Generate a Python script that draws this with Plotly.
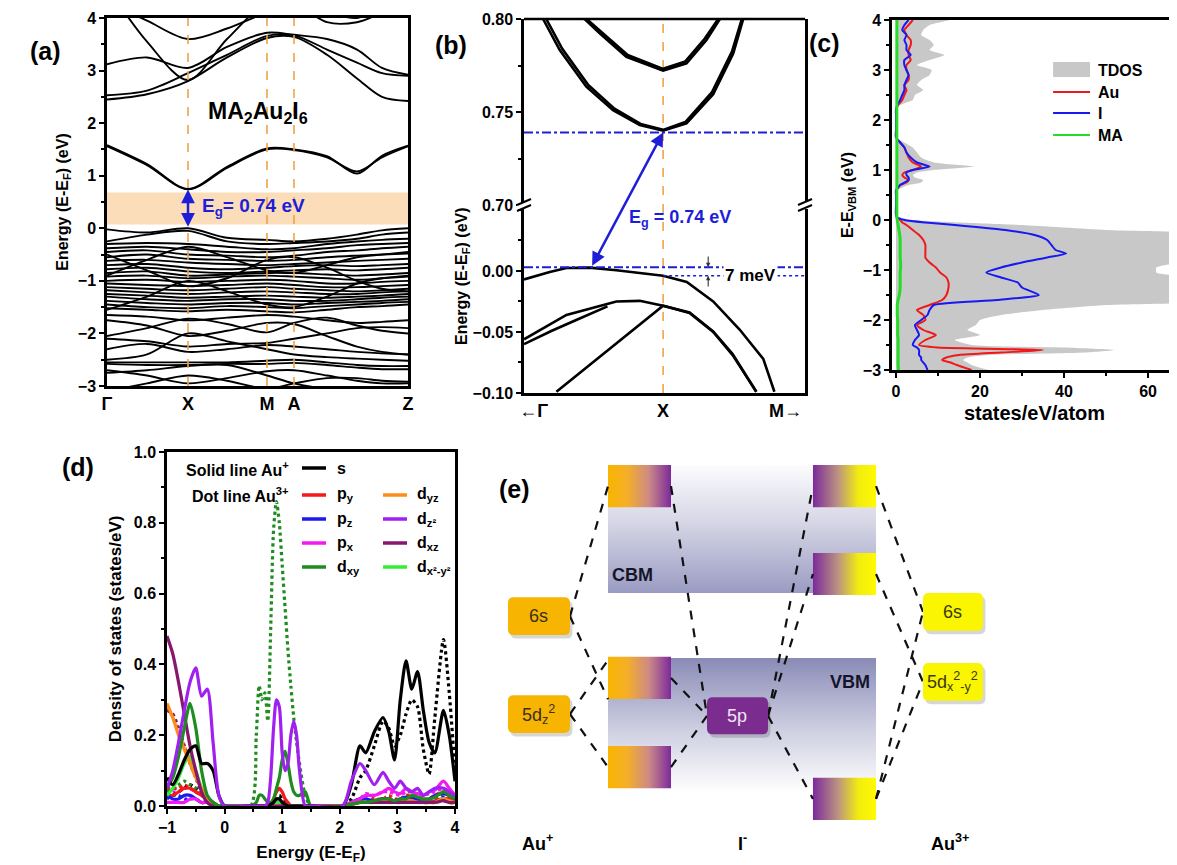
import plotly.graph_objects as go

# page is 1177x865; the browser adds an 8px body margin, so the figure itself is 8px smaller
PAGE_OFF = 8
W, H = 1177 - PAGE_OFF, 865 - PAGE_OFF
def px(x): return (x - PAGE_OFF) / W
def py(y): return 1 - (y - PAGE_OFF) / H

# ====================== DATA ======================
# (a) band structure of MA2Au2I6 along Γ-X-M-A-Z
A_K = [0.0, 0.40, 0.81, 1.20, 1.60, 1.87, 2.20, 2.50, 2.75, 3.01]
A_KTICK_POS = [0.0, 0.81, 1.60, 1.87, 3.01]
A_KTICK_TEXT = ["Γ", "X", "M", "A", "Z"]
A_CB = [
    [1.56, 1.20, 0.74, 1.15, 1.50, 1.49, 1.35, 1.08, 1.35, 1.56],
    [1.58, 1.22, 0.75, 1.17, 1.52, 1.50, 1.37, 1.04, 1.38, 1.57],
    [2.45, 2.55, 2.80, 3.25, 3.62, 3.64, 3.30, 2.85, 2.50, 2.42],
    [2.53, 2.62, 2.95, 3.30, 3.66, 3.67, 3.40, 3.15, 2.95, 2.90],
    [3.12, 3.25, 3.05, 3.45, 3.72, 3.68, 3.60, 3.40, 3.05, 2.92],
    [4.30, 3.95, 3.60, 3.80, 4.10, 4.20, 4.10, 4.00, 4.20, 4.40],
    [4.60, 3.55, 2.82, 3.60, 4.30, 4.40, 4.30, 4.30, 4.40, 4.50],
    [4.50, 4.30, 4.20, 4.40, 4.50, 4.30, 3.92, 3.92, 4.10, 4.30],
]
A_VB = [
    [-0.02, -0.08, 0.00, -0.18, -0.22, -0.25, -0.20, -0.12, -0.04, 0.00],
    [-0.25, -0.12, -0.05, -0.25, -0.30, -0.28, -0.25, -0.20, -0.12, -0.08],
    [-0.30, -0.28, -0.30, -0.35, -0.40, -0.38, -0.30, -0.25, -0.22, -0.20],
    [-0.38, -0.35, -0.40, -0.45, -0.45, -0.42, -0.38, -0.32, -0.30, -0.28],
    [-0.45, -0.42, -0.50, -0.52, -0.55, -0.52, -0.45, -0.42, -0.38, -0.35],
    [-0.55, -0.50, -0.58, -0.60, -0.62, -0.60, -0.55, -0.52, -0.50, -0.48],
    [-0.62, -0.60, -0.65, -0.68, -0.70, -0.68, -0.65, -0.62, -0.60, -0.58],
    [-0.70, -0.68, -0.75, -0.78, -0.75, -0.72, -0.70, -0.72, -0.70, -0.68],
    [-0.78, -0.75, -0.82, -0.85, -0.82, -0.80, -0.78, -0.80, -0.78, -0.75],
    [-0.85, -0.82, -0.90, -0.88, -0.85, -0.85, -0.88, -0.90, -0.88, -0.85],
    [-0.92, -0.90, -0.95, -0.92, -0.90, -0.92, -0.95, -0.98, -0.95, -0.92],
    [-1.00, -0.98, -1.02, -1.00, -0.98, -1.00, -1.05, -1.05, -1.02, -1.00],
    [-1.05, -1.08, -1.10, -1.08, -1.05, -1.08, -1.12, -1.12, -1.10, -1.08],
    [-1.12, -1.15, -1.18, -1.15, -1.12, -1.15, -1.18, -1.20, -1.18, -1.15],
    [-1.18, -1.22, -1.25, -1.22, -1.20, -1.22, -1.25, -1.25, -1.22, -1.20],
    [-1.25, -1.28, -1.32, -1.30, -1.28, -1.30, -1.32, -1.30, -1.28, -1.25],
    [-1.30, -1.35, -1.38, -1.35, -1.35, -1.38, -1.38, -1.35, -1.32, -1.30],
    [-1.38, -1.42, -1.45, -1.42, -1.42, -1.45, -1.42, -1.40, -1.38, -1.35],
    [-1.45, -1.50, -1.52, -1.48, -1.50, -1.52, -1.48, -1.45, -1.42, -1.40],
    [-1.52, -1.55, -1.58, -1.55, -1.58, -1.60, -1.55, -1.50, -1.48, -1.45],
    [-0.90, -0.60, -0.35, -0.55, -0.80, -0.85, -0.70, -0.55, -0.50, -0.45],
    [-1.55, -1.30, -1.00, -1.20, -1.45, -1.50, -1.30, -1.05, -0.95, -0.90],
    [-0.50, -0.80, -1.10, -0.95, -0.60, -0.55, -0.75, -1.00, -1.15, -1.20],
    [-1.65, -1.68, -1.75, -1.70, -1.65, -1.68, -1.75, -1.80, -1.78, -1.75],
    [-1.75, -1.85, -2.05, -1.95, -1.80, -1.82, -2.05, -2.25, -2.35, -2.40],
    [-2.05, -1.90, -1.72, -1.82, -1.98, -1.80, -1.70, -1.85, -1.95, -2.00],
    [-2.10, -2.15, -2.25, -2.20, -2.18, -2.10, -2.00, -1.90, -1.88, -1.90],
    [-2.30, -2.20, -2.35, -2.30, -2.22, -2.25, -2.30, -2.35, -2.38, -2.40],
    [-2.50, -2.40, -2.00, -2.15, -2.30, -2.40, -2.45, -2.48, -2.50, -2.52],
    [-2.55, -2.55, -2.55, -2.55, -2.52, -2.50, -2.55, -2.60, -2.62, -2.62],
    [-2.58, -2.60, -2.60, -2.58, -2.58, -2.56, -2.60, -2.65, -2.68, -2.68],
    [-2.70, -2.80, -2.95, -2.85, -2.72, -2.70, -2.80, -2.90, -2.95, -2.95],
    [-2.75, -2.70, -2.62, -2.60, -2.80, -2.95, -3.05, -3.05, -3.05, -3.05],
    [-3.10, -2.95, -2.80, -2.90, -3.05, -2.95, -2.85, -2.85, -2.90, -2.92],
]
A_GAP = [0.0, 0.74]
A_SHADE = [0.07, 0.68]

# (b) zoom near X
B_KTICK_TEXT = ["←Γ", "X", "M→"]
B_CB = [
    ([0.137, 0.257, 0.448, 0.640, 0.832, 1.0, 1.168, 1.36, 1.504, 1.576],
     [0.800, 0.7833, 0.7636, 0.751, 0.743, 0.740, 0.7439, 0.7595, 0.7815, 0.800]),
    ([0.160, 0.275, 0.462, 0.650, 0.838, 1.0, 1.160, 1.35, 1.495, 1.566],
     [0.800, 0.7840, 0.7645, 0.7518, 0.7436, 0.7404, 0.7446, 0.7605, 0.7825, 0.800]),
    ([0.436, 0.544, 0.736, 1.0, 1.168, 1.312, 1.408],
     [0.800, 0.7923, 0.7797, 0.7722, 0.7762, 0.7887, 0.800]),
    ([0.450, 0.556, 0.745, 1.0, 1.160, 1.300, 1.396],
     [0.800, 0.7930, 0.7806, 0.7732, 0.7772, 0.7895, 0.800]),
]
B_VB = [
    ([0.0, 0.185, 0.305, 0.47, 0.664, 1.0, 1.17, 1.36, 1.55, 1.72, 1.80],
     [-0.007, -0.0008, 0.0024, 0.0027, 0.0005, -0.004, -0.009, -0.025, -0.048, -0.072, -0.099]),
    ([0.0, 0.305, 0.664, 0.832, 1.0, 1.19, 1.36, 1.50, 1.67],
     [-0.056, -0.036, -0.025, -0.0245, -0.0285, -0.034, -0.0495, -0.068, -0.099]),
    ([0.0, 0.20, 0.40, 0.60],
     [-0.060, -0.049, -0.039, -0.029]),
    ([0.233, 1.0, 1.19, 1.36, 1.50, 1.67],
     [-0.099, -0.0285, -0.0345, -0.050, -0.069, -0.099]),
]
B_CBM = 0.739
B_VBM = 0.003
B_VBX = -0.004
B_VBM_K = 0.484

# (c) total and partial DOS
C_E = [4.0, 3.9, 3.8, 3.7, 3.6, 3.5, 3.4, 3.3, 3.2, 3.1,
       3.0, 2.9, 2.8, 2.7, 2.6, 2.5, 2.4, 2.3, 2.2, 2.1,
       2.0, 1.8, 1.65, 1.55, 1.45, 1.35, 1.25, 1.15, 1.07, 1.0,
       0.95, 0.9, 0.85, 0.8, 0.75, 0.7, 0.65, 0.6, 0.5, 0.3,
       0.1, 0.05, 0.0, -0.05, -0.1, -0.2, -0.3, -0.4, -0.5, -0.6,
       -0.67, -0.75, -0.85, -0.95, -1.05, -1.15, -1.25, -1.35, -1.5, -1.6,
       -1.7, -1.8, -1.9, -2.0, -2.1, -2.2, -2.3, -2.4, -2.5, -2.55,
       -2.6, -2.65, -2.7, -2.75, -2.8, -2.85, -2.9, -3.0]
C_TDOS = [13, 8, 6.5, 6, 8, 9, 8, 11.5, 8, 5,
          8.5, 8, 6, 5, 6.5, 4.5, 4, 1, 0, 0,
          0, 0, 0, 2, 4, 5, 6, 9, 18.5, 9,
          5, 4, 4.5, 6.5, 6, 3, 1.5, 0.5, 0, 0,
          0, 1, 4, 15, 30, 50, 75, 75, 75, 75,
          75, 75, 68, 62, 62, 72, 75, 75, 75, 75,
          50, 35, 25, 20, 19, 17, 20, 14, 18, 40,
          52, 45, 22, 17, 16, 17, 18, 22]
C_AU = [4, 3, 2, 2.5, 3.5, 3.5, 3, 3, 3.5, 2.5,
        2.5, 3, 3, 2, 2.5, 2, 1.5, 0.5, 0, 0,
        0, 0, 0, 1, 2, 2.5, 3, 4, 6, 4,
        2, 1.5, 2, 3, 2.5, 1, 0.5, 0, 0, 0,
        0, 0.2, 1, 1.5, 2.5, 4, 5.5, 6.5, 7, 7,
        7, 7, 8, 9.5, 10.5, 12, 12.5, 12.5, 12, 11,
        8, 5, 6.5, 7, 5, 6.5, 9.5, 7, 5.5, 10,
        35, 25, 15, 12, 11, 13, 14.5, 18]
C_I = [3, 2, 1.5, 2.5, 2, 2.5, 2.5, 3.5, 2, 2,
       2.5, 3, 2.5, 2, 2, 1.5, 1, 0.3, 0, 0,
       0, 0, 0, 1, 2, 2.5, 3.5, 5, 8, 4,
       2.5, 2.5, 3, 3, 2, 1, 0.5, 0, 0, 0,
       0, 0.3, 2, 7, 14, 26, 33, 36, 37, 38,
       40.5, 36, 30, 25, 21.5, 25, 29, 30, 34, 24,
       9, 8, 7.5, 6, 4.5, 5, 5.5, 4.5, 4, 5,
       5.5, 5.5, 5.5, 6, 6, 6.5, 7, 7.5]
C_MA = [0.2, 0.2, 0.2, 0.2, 0.2, 0.2, 0.2, 0.2, 0.2, 0.2,
        0.2, 0.2, 0.2, 0.2, 0.2, 0.2, 0.2, 0.2, 0.2, 0.2,
        0.2, 0.2, 0.2, 0.2, 0.2, 0.2, 0.2, 0.2, 0.2, 0.2,
        0.2, 0.2, 0.2, 0.2, 0.2, 0.2, 0.2, 0.2, 0.2, 0.2,
        0.2, 0.2, 0.3, 0.4, 0.5, 0.7, 0.9, 1.0, 1.0, 1.0,
        1.0, 1.0, 1.1, 1.1, 1.0, 1.0, 1.0, 1.0, 0.8, 0.5,
        0.3, 0.3, 0.3, 0.4, 0.4, 0.4, 0.4, 0.5, 0.5, 0.5,
        0.5, 0.5, 0.5, 0.5, 0.5, 0.5, 0.5, 0.6]
C_NAMES = ["TDOS", "Au", "I", "MA"]

# (d) orbital-projected DOS of Au+ (solid) and Au3+ (dotted)
D_E = [-1.0, -0.9, -0.8, -0.7, -0.6, -0.5, -0.4, -0.3, -0.2, -0.1, 0.0,
       0.45, 0.55, 0.6, 0.65, 0.7, 0.75, 0.8, 0.85, 0.9, 0.95, 1.0, 1.05, 1.1, 1.15, 1.2, 1.25, 1.3, 1.4, 1.5,
       2.05, 2.2, 2.35, 2.45, 2.6, 2.75, 2.85, 2.95, 3.05, 3.15, 3.25, 3.35, 3.45, 3.55, 3.65, 3.8, 3.9, 4.0]
D_S_AU1 = [0.08, 0.06, 0.09, 0.13, 0.16, 0.17, 0.12, 0.12, 0.10, 0.03, 0.0,
           0.0, 0.0, 0.0, 0.0, 0.0, 0.0, 0.005, 0.01, 0.02, 0.02, 0.01, 0.005, 0.0, 0.0, 0.0, 0.0, 0.0, 0.0, 0.0,
           0.0, 0.06, 0.17, 0.15, 0.21, 0.25, 0.21, 0.13, 0.30, 0.41, 0.33, 0.38, 0.27, 0.18, 0.15, 0.27, 0.20, 0.07]
D_S_AU3 = [0.03, 0.03, 0.04, 0.05, 0.06, 0.05, 0.04, 0.02, 0.01, 0.0, 0.0,
           0.0, 0.0, 0.0, 0.0, 0.0, 0.0, 0.0, 0.01, 0.02, 0.03, 0.02, 0.01, 0.0, 0.0, 0.0, 0.0, 0.0, 0.0, 0.0,
           0.0, 0.02, 0.08, 0.10, 0.17, 0.24, 0.22, 0.17, 0.20, 0.26, 0.30, 0.28, 0.16, 0.09, 0.25, 0.47, 0.32, 0.10]
D_PY_AU1 = [0.03, 0.03, 0.04, 0.05, 0.05, 0.04, 0.03, 0.02, 0.01, 0.0, 0.0,
            0.0, 0.0, 0.0, 0.0, 0.0, 0.0, 0.005, 0.02, 0.04, 0.05, 0.04, 0.02, 0.01, 0.0, 0.0, 0.0, 0.0, 0.0, 0.0,
            0.0, 0.005, 0.01, 0.01, 0.015, 0.02, 0.015, 0.01, 0.015, 0.02, 0.02, 0.015, 0.01, 0.01, 0.015, 0.02, 0.02, 0.01]
D_PY_AU3 = [0.05, 0.05, 0.05, 0.06, 0.05, 0.04, 0.03, 0.02, 0.01, 0.0, 0.0,
            0.0, 0.0, 0.0, 0.0, 0.0, 0.0, 0.0, 0.0, 0.01, 0.01, 0.0, 0.0, 0.0, 0.0, 0.0, 0.0, 0.0, 0.0, 0.0,
            0.0, 0.01, 0.02, 0.03, 0.02, 0.02, 0.03, 0.02, 0.02, 0.03, 0.03, 0.02, 0.02, 0.02, 0.03, 0.04, 0.03, 0.02]
D_PZ_AU1 = [0.03, 0.02, 0.02, 0.03, 0.03, 0.02, 0.01, 0.01, 0.0, 0.0, 0.0,
            0.0, 0.0, 0.0, 0.0, 0.0, 0.0, 0.0, 0.005, 0.01, 0.01, 0.01, 0.005, 0.0, 0.0, 0.0, 0.0, 0.0, 0.0, 0.0,
            0.0, 0.01, 0.02, 0.02, 0.015, 0.02, 0.02, 0.015, 0.02, 0.025, 0.02, 0.02, 0.015, 0.02, 0.03, 0.035, 0.03, 0.02]
D_PZ_AU3 = [0.02, 0.03, 0.03, 0.02, 0.02, 0.02, 0.01, 0.01, 0.0, 0.0, 0.0,
            0.0, 0.0, 0.0, 0.0, 0.0, 0.0, 0.0, 0.0, 0.0, 0.0, 0.0, 0.0, 0.0, 0.0, 0.0, 0.0, 0.0, 0.0, 0.0,
            0.0, 0.005, 0.01, 0.015, 0.01, 0.015, 0.015, 0.01, 0.015, 0.02, 0.015, 0.015, 0.01, 0.015, 0.02, 0.025, 0.02, 0.015]
D_PX_AU1 = [0.01, 0.01, 0.01, 0.01, 0.02, 0.02, 0.01, 0.01, 0.0, 0.0, 0.0,
            0.0, 0.0, 0.0, 0.0, 0.0, 0.0, 0.0, 0.005, 0.01, 0.015, 0.01, 0.005, 0.0, 0.0, 0.0, 0.0, 0.0, 0.0, 0.0,
            0.0, 0.01, 0.02, 0.03, 0.03, 0.04, 0.05, 0.04, 0.035, 0.05, 0.04, 0.035, 0.03, 0.04, 0.045, 0.07, 0.05, 0.03]
D_PX_AU3 = [0.03, 0.04, 0.04, 0.05, 0.05, 0.04, 0.03, 0.02, 0.01, 0.0, 0.0,
            0.0, 0.0, 0.0, 0.0, 0.0, 0.0, 0.0, 0.0, 0.005, 0.01, 0.005, 0.0, 0.0, 0.0, 0.0, 0.0, 0.0, 0.0, 0.0,
            0.0, 0.01, 0.02, 0.035, 0.03, 0.04, 0.04, 0.035, 0.03, 0.04, 0.04, 0.03, 0.03, 0.035, 0.04, 0.05, 0.04, 0.03]
D_DXY_AU1 = [0.05, 0.08, 0.14, 0.22, 0.29, 0.22, 0.10, 0.03, 0.01, 0.0, 0.0,
             0.0, 0.01, 0.03, 0.03, 0.02, 0.01, 0.01, 0.02, 0.05, 0.08, 0.13, 0.155, 0.12, 0.07, 0.04, 0.03, 0.03, 0.04, 0.0,
             0.0, 0.005, 0.01, 0.01, 0.015, 0.02, 0.02, 0.015, 0.02, 0.02, 0.03, 0.025, 0.02, 0.02, 0.025, 0.04, 0.03, 0.02]
D_DXY_AU3 = [0.04, 0.05, 0.06, 0.07, 0.06, 0.05, 0.03, 0.02, 0.01, 0.0, 0.0,
             0.0, 0.20, 0.34, 0.30, 0.32, 0.24, 0.50, 0.78, 0.86, 0.80, 0.68, 0.56, 0.44, 0.34, 0.25, 0.18, 0.12, 0.03, 0.0,
             0.0, 0.005, 0.01, 0.015, 0.015, 0.02, 0.015, 0.01, 0.015, 0.02, 0.02, 0.02, 0.015, 0.015, 0.02, 0.035, 0.03, 0.02]
D_DYZ_AU1 = [0.29, 0.25, 0.20, 0.16, 0.12, 0.08, 0.05, 0.02, 0.0, 0.0, 0.0,
             0.0, 0.0, 0.0, 0.0, 0.0, 0.0, 0.0, 0.0, 0.0, 0.0, 0.0, 0.0, 0.0, 0.0, 0.0, 0.0, 0.0, 0.0, 0.0,
             0.0, 0.005, 0.01, 0.01, 0.01, 0.015, 0.01, 0.01, 0.01, 0.015, 0.015, 0.01, 0.01, 0.01, 0.01, 0.02, 0.015, 0.01]
D_DYZ_AU3 = [0.28, 0.25, 0.21, 0.17, 0.13, 0.09, 0.05, 0.02, 0.01, 0.0, 0.0,
             0.0, 0.0, 0.0, 0.0, 0.0, 0.0, 0.0, 0.0, 0.0, 0.0, 0.0, 0.0, 0.0, 0.0, 0.0, 0.0, 0.0, 0.0, 0.0,
             0.0, 0.005, 0.01, 0.01, 0.01, 0.01, 0.01, 0.01, 0.01, 0.01, 0.01, 0.01, 0.01, 0.01, 0.01, 0.015, 0.01, 0.01]
D_DZ2_AU1 = [0.05, 0.10, 0.18, 0.27, 0.35, 0.39, 0.31, 0.33, 0.18, 0.03, 0.0,
             0.0, 0.0, 0.0, 0.0, 0.0, 0.01, 0.08, 0.22, 0.30, 0.28, 0.15, 0.10, 0.12, 0.20, 0.24, 0.20, 0.10, 0.0, 0.0,
             0.0, 0.07, 0.12, 0.10, 0.06, 0.095, 0.07, 0.05, 0.07, 0.05, 0.04, 0.05, 0.03, 0.04, 0.05, 0.05, 0.04, 0.03]
D_DXZ_AU1 = [0.48, 0.43, 0.35, 0.26, 0.17, 0.10, 0.04, 0.01, 0.0, 0.0, 0.0,
             0.0, 0.0, 0.0, 0.0, 0.0, 0.0, 0.0, 0.0, 0.0, 0.0, 0.0, 0.0, 0.0, 0.0, 0.0, 0.0, 0.0, 0.0, 0.0,
             0.0, 0.005, 0.01, 0.01, 0.01, 0.01, 0.01, 0.01, 0.01, 0.01, 0.01, 0.01, 0.01, 0.01, 0.01, 0.015, 0.01, 0.01]
D_DXZ_AU3 = [0.27, 0.26, 0.22, 0.17, 0.12, 0.08, 0.04, 0.02, 0.0, 0.0, 0.0,
             0.0, 0.0, 0.0, 0.0, 0.0, 0.0, 0.0, 0.0, 0.0, 0.0, 0.0, 0.0, 0.0, 0.0, 0.0, 0.0, 0.0, 0.0, 0.0,
             0.0, 0.005, 0.01, 0.01, 0.01, 0.01, 0.01, 0.01, 0.01, 0.01, 0.01, 0.01, 0.01, 0.01, 0.01, 0.015, 0.01, 0.01]
D_DX2_AU1 = [0.03, 0.05, 0.08, 0.12, 0.14, 0.10, 0.05, 0.02, 0.0, 0.0, 0.0,
             0.0, 0.0, 0.0, 0.0, 0.0, 0.0, 0.0, 0.0, 0.01, 0.01, 0.01, 0.0, 0.0, 0.0, 0.0, 0.0, 0.0, 0.0, 0.0,
             0.0, 0.005, 0.01, 0.01, 0.01, 0.01, 0.01, 0.01, 0.01, 0.01, 0.01, 0.01, 0.01, 0.01, 0.01, 0.02, 0.01, 0.01]
D_ORB_LABELS = ["s", "p<sub>y</sub>", "p<sub>z</sub>", "p<sub>x</sub>", "d<sub>xy</sub>",
                "d<sub>yz</sub>", "d<sub>z²</sub>", "d<sub>xz</sub>", "d<sub>x²-y²</sub>"]

# (e) schematic energy-level diagram (arbitrary energy units 0-100)
E_AU1_LABELS = ["6s", "5d<sub>z</sub><sup>2</sup>"]
E_AU1_LEVELS = [57.2, 34.7]
E_MOL_LEVELS = [87.1, 43.0, 22.5]
E_I_LABELS = ["5p"]
E_I_LEVELS = [34.3]
E_MOR_LEVELS = [87.1, 66.9, 15.2]
E_AU3_LABELS = ["6s", "5d<sub>x</sub><sup>2</sup><sub>-y</sub><sup>2</sup>"]
E_AU3_LEVELS = [58.2, 42.1]
E_CBM = [62.5, 92.0]
E_VBM = [16.6, 47.6]
E_ION_LABELS = ["Au<sup>+</sup>", "I<sup>-</sup>", "Au<sup>3+</sup>"]
E_LINKS = [("au1", 0, "mol", 0), ("au1", 0, "mol", 1), ("au1", 1, "mol", 1), ("au1", 1, "mol", 2),
           ("mol", 0, "i", 0), ("mol", 1, "i", 0), ("mol", 2, "i", 0),
           ("i", 0, "mor", 0), ("i", 0, "mor", 1), ("i", 0, "mor", 2),
           ("mor", 0, "au3", 0), ("mor", 2, "au3", 0), ("mor", 1, "au3", 1), ("mor", 2, "au3", 1)]

for arr in (C_TDOS, C_AU, C_I, C_MA):
    assert len(arr) == len(C_E)
for arr in (D_S_AU1, D_S_AU3, D_PY_AU1, D_PY_AU3, D_PZ_AU1, D_PZ_AU3, D_PX_AU1, D_PX_AU3,
            D_DXY_AU1, D_DXY_AU3, D_DYZ_AU1, D_DYZ_AU3, D_DZ2_AU1, D_DXZ_AU1, D_DXZ_AU3, D_DX2_AU1):
    assert len(arr) == len(D_E), len(arr)

# ====================== STYLE ======================
FONT = "Liberation Sans, Arial, sans-serif"
BLUE = "#1E1ED8"
ODASH = "#F2A24A"
TICKFONT = dict(family=FONT, size=16, color="black", weight="bold")
def title_font(size):
    return dict(family=FONT, size=size, color="black", weight="bold")

fig = go.Figure()
shapes = []
ann = []

# ---------------- (a) ----------------
for band in A_CB + A_VB:
    fig.add_trace(go.Scatter(x=A_K, y=band, mode="lines", xaxis="x", yaxis="y",
                             line=dict(color="black", width=1.9, shape="spline", smoothing=0.9),
                             hoverinfo="skip"))
shapes.append(dict(type="rect", xref="x domain", yref="y", x0=0, x1=1, y0=A_SHADE[0], y1=A_SHADE[1],
                   fillcolor="#FCDDBA", line=dict(width=0), layer="below"))
for kx in A_KTICK_POS[1:4]:
    shapes.append(dict(type="line", xref="x", yref="y domain", x0=kx, x1=kx, y0=0, y1=1,
                       line=dict(color=ODASH, width=1.6, dash="dash"), layer="above"))
ann.append(dict(x=A_KTICK_POS[1], y=A_GAP[1], ax=A_KTICK_POS[1], ay=A_GAP[0], xref="x", yref="y",
                axref="x", ayref="y", text="", showarrow=True, arrowhead=2, arrowside="end+start",
                arrowsize=1.1, arrowwidth=2.5, arrowcolor=BLUE))
ann.append(dict(x=0.93, y=0.40, xref="x", yref="y", xanchor="left", showarrow=False,
                text="E<sub>g</sub>= 0.74 eV", font=dict(family=FONT, size=19, color=BLUE, weight="bold")))
ann.append(dict(x=1.51, y=2.2, xref="x", yref="y", showarrow=False,
                text="MA<sub>2</sub>Au<sub>2</sub>I<sub>6</sub>", font=title_font(23)))

# ---------------- (b) ----------------
for ks, es in B_CB:
    fig.add_trace(go.Scatter(x=ks, y=es, mode="lines", xaxis="x2", yaxis="y3",
                             line=dict(color="black", width=2.6), hoverinfo="skip"))
for ks, es in B_VB:
    fig.add_trace(go.Scatter(x=ks, y=es, mode="lines", xaxis="x2", yaxis="y2",
                             line=dict(color="black", width=2.6), hoverinfo="skip"))
B_LO = [-0.10, 0.054]
B_HI = [0.70, 0.80]
B_DLO = [py(393), py(205)]
B_DHI = [py(205), py(19)]
B_XR = [0, 2.02]

def lo_to_hi(v):
    p = B_DLO[0] + (v - B_LO[0]) / (B_LO[1] - B_LO[0]) * (B_DLO[1] - B_DLO[0])
    return B_HI[0] + (p - B_DHI[0]) / (B_DHI[1] - B_DHI[0]) * (B_HI[1] - B_HI[0])

shapes.append(dict(type="line", xref="x2", yref="paper", x0=1.0, x1=1.0, y0=B_DLO[0], y1=B_DHI[1],
                   line=dict(color=ODASH, width=1.6, dash="dash"), layer="below"))
shapes.append(dict(type="line", xref="x2 domain", yref="y3", x0=0, x1=1, y0=B_CBM, y1=B_CBM,
                   line=dict(color=BLUE, width=2, dash="dashdot"), layer="above"))
shapes.append(dict(type="line", xref="x2 domain", yref="y2", x0=0, x1=1, y0=B_VBM, y1=B_VBM,
                   line=dict(color=BLUE, width=2, dash="dashdot"), layer="above"))
shapes.append(dict(type="line", xref="x2", yref="y2", x0=1.0, x1=B_XR[1], y0=B_VBX, y1=B_VBX,
                   line=dict(color=BLUE, width=1.6, dash="dot"), layer="above"))
shapes.append(dict(type="line", xref="x2 domain", yref="y3 domain", x0=0, x1=1, y0=1, y1=1,
                   line=dict(color="black", width=2.5)))
for xe in (524, 805):
    shapes.append(dict(type="rect", xref="paper", yref="paper", x0=px(xe - 7), x1=px(xe + 7),
                       y0=py(209), y1=py(202), fillcolor="white", line=dict(width=0), layer="above"))
    for dy in (-3, 3):
        shapes.append(dict(type="line", xref="paper", yref="paper", x0=px(xe - 7), x1=px(xe + 7),
                           y0=py(208 + dy), y1=py(202 + dy), line=dict(color="black", width=2), layer="above"))
ann.append(dict(x=1.0, y=B_CBM, ax=B_VBM_K, ay=lo_to_hi(B_VBM), xref="x2", yref="y3", axref="x2", ayref="y3",
                text="", showarrow=True, arrowhead=2, arrowside="end+start", arrowsize=1.1,
                arrowwidth=2.5, arrowcolor=BLUE))
ann.append(dict(x=0.74, y=0.043, xref="x2", yref="y2", xanchor="left", showarrow=False,
                text="E<sub>g</sub> = 0.74 eV", font=dict(family=FONT, size=18, color=BLUE, weight="bold")))
ann.append(dict(x=1.43, y=-0.0035, xref="x2", yref="y2", xanchor="left", showarrow=False, bgcolor="white",
                text="7 meV", font=title_font(17)))
for head, tail in ((B_VBM, 0.013), (B_VBX, -0.014)):
    ann.append(dict(x=1.324, y=head, ax=1.324, ay=tail, xref="x2", yref="y2", axref="x2", ayref="y2",
                    text="", showarrow=True, arrowhead=2, arrowsize=0.8, arrowwidth=1.1, arrowcolor="#333"))
ann.append(dict(x=px(462), y=py(205), xref="paper", yref="paper", textangle=-90, showarrow=False,
                text="Energy (E-E<sub>F</sub>) (eV)", font=title_font(16)))

# ---------------- (c) ----------------
fig.add_trace(go.Scatter(x=C_TDOS, y=C_E, mode="lines", fill="tozerox", fillcolor="#C8C8C8",
                         line=dict(width=0, shape="spline", smoothing=0.6), xaxis="x3", yaxis="y4",
                         hoverinfo="skip"))
C_COLORS = ["#C8C8C8", "#F01818", "#1818F0", "#22DD22"]
for vals, col, wd in ((C_AU, C_COLORS[1], 2), (C_I, C_COLORS[2], 2), (C_MA, C_COLORS[3], 3)):
    fig.add_trace(go.Scatter(x=vals, y=C_E, mode="lines", xaxis="x3", yaxis="y4",
                             line=dict(color=col, width=wd, shape="spline", smoothing=0.6), hoverinfo="skip"))
leg_y = [3.0, 2.56, 2.14, 1.70]
shapes.append(dict(type="rect", xref="x3", yref="y4", x0=37.4, x1=46.2, y0=2.86, y1=3.16,
                   fillcolor=C_COLORS[0], line=dict(width=0)))
for i, name in enumerate(C_NAMES):
    if i > 0:
        shapes.append(dict(type="line", xref="x3", yref="y4", x0=37.4, x1=46.2, y0=leg_y[i], y1=leg_y[i],
                           line=dict(color=C_COLORS[i], width=2)))
    ann.append(dict(x=47.6, y=leg_y[i], xref="x3", yref="y4", xanchor="left", showarrow=False,
                    text=name, font=title_font(16)))

# ---------------- (d) ----------------
D_COLORS = ["black", "#F21A1A", "#1A1AF2", "#F21AF2", "#1E8C1E",
            "#FF8C1A", "#A020F0", "#86166E", "#33EE33"]
dotted = [(D_PY_AU3, 1), (D_PZ_AU3, 2), (D_PX_AU3, 3), (D_DYZ_AU3, 5), (D_DXZ_AU3, 7),
          (D_S_AU3, 0), (D_DXY_AU3, 4)]
solid = [(D_PY_AU1, 1), (D_PZ_AU1, 2), (D_PX_AU1, 3), (D_DX2_AU1, 8), (D_DYZ_AU1, 5),
         (D_DXZ_AU1, 7), (D_DXY_AU1, 4), (D_S_AU1, 0), (D_DZ2_AU1, 6)]
for vals, ci in dotted:
    fig.add_trace(go.Scatter(x=D_E, y=vals, mode="lines", xaxis="x4", yaxis="y5",
                             line=dict(color=D_COLORS[ci], width=3.2, dash="dot", shape="spline", smoothing=0.7),
                             hoverinfo="skip"))
for vals, ci in solid:
    fig.add_trace(go.Scatter(x=D_E, y=vals, mode="lines", xaxis="x4", yaxis="y5",
                             line=dict(color=D_COLORS[ci], width=3.2, shape="spline", smoothing=0.7),
                             hoverinfo="skip"))
leg_rows = [468, 495, 519, 543, 567]
leg_pos = [(0, 0), (0, 1), (0, 2), (0, 3), (0, 4), (1, 1), (1, 2), (1, 3), (1, 4)]
leg_cols = [(302, 326, 335), (383, 407, 415)]
for i, (c, r) in enumerate(leg_pos):
    x0, x1, xt = leg_cols[c]
    yy = py(leg_rows[r])
    shapes.append(dict(type="line", xref="paper", yref="paper", x0=px(x0), x1=px(x1), y0=yy, y1=yy,
                       line=dict(color=D_COLORS[i], width=3.5)))
    ann.append(dict(x=px(xt), y=yy, xref="paper", yref="paper", xanchor="left", showarrow=False,
                    text=D_ORB_LABELS[i], font=title_font(16)))
ann.append(dict(x=px(291), y=py(469), xref="paper", yref="paper", xanchor="right", showarrow=False,
                text="Solid line Au<sup>+</sup>", font=title_font(16)))
ann.append(dict(x=px(291), y=py(495), xref="paper", yref="paper", xanchor="right", showarrow=False,
                text="Dot line Au<sup>3+</sup>", font=title_font(16)))

# ---------------- (e) ----------------
COL_X = {"au1": (5.37, 14.14), "mol": (19.52, 28.43), "i": (33.52, 42.15),
         "mor": (48.51, 57.43), "au3": (64.07, 72.56)}
HALF = {"au1": 4.35, "mol": 4.85, "i": 4.25, "mor": 4.85, "au3": 4.35}
LEVELS = {"au1": E_AU1_LEVELS, "mol": E_MOL_LEVELS, "i": E_I_LEVELS, "mor": E_MOR_LEVELS, "au3": E_AU3_LEVELS}
ATTACH = {1: -4.9, 2: 4.1}

for (y0, y1), cs in ((E_CBM, [[0, "#9A9BC2"], [0.55, "#D6D6E6"], [1, "#FCFCFE"]]),
                     (E_VBM, [[0, "#FFFFFF"], [0.5, "#CACBDF"], [1, "#8A8BB6"]])):
    x0, x1 = COL_X["mol"][0], COL_X["mor"][1]
    fig.add_trace(go.Scatter(x=[x0, x1, x1, x0, x0], y=[y0, y0, y1, y1, y0], mode="lines",
                             fill="toself", line=dict(width=0, color="rgba(0,0,0,0)"),
                             fillgradient=dict(type="vertical", colorscale=cs, start=y0, stop=y1),
                             xaxis="x5", yaxis="y6", hoverinfo="skip"))
for col, cs in (("mol", [[0, "#F8B500"], [0.3, "#F5AF28"], [0.65, "#CC8A86"], [1, "#7C2A9C"]]),
                ("mor", [[0, "#7C2A9C"], [0.4, "#BC9480"], [0.72, "#F2EC10"], [1, "#FFFA00"]])):
    x0, x1 = COL_X[col]
    for lv in LEVELS[col]:
        y0, y1 = lv - HALF[col], lv + HALF[col]
        fig.add_trace(go.Scatter(x=[x0, x1, x1, x0, x0], y=[y0, y0, y1, y1, y0], mode="lines",
                                 fill="toself", line=dict(width=0, color="rgba(0,0,0,0)"),
                                 fillgradient=dict(type="horizontal", colorscale=cs, start=x0, stop=x1),
                                 xaxis="x5", yaxis="y6", hoverinfo="skip"))
for li, (c1, i1, c2, i2) in enumerate(E_LINKS):
    xa = COL_X[c1][1]
    xb = COL_X[c2][0]
    ya = LEVELS[c1][i1]
    yb = LEVELS[c2][i2] + ATTACH.get(li, 0.0)
    shapes.append(dict(type="line", xref="x5", yref="y6", x0=xa, x1=xb, y0=ya, y1=yb,
                       line=dict(color="#111111", width=2.2, dash="dash"), layer="above"))

def rrect(x0, x1, y0, y1, rx=0.8, ry=1.3):
    return (f"M{x0+rx},{y0} L{x1-rx},{y0} Q{x1},{y0} {x1},{y0+ry} L{x1},{y1-ry} Q{x1},{y1} {x1-rx},{y1} "
            f"L{x0+rx},{y1} Q{x0},{y1} {x0},{y1-ry} L{x0},{y0+ry} Q{x0},{y0} {x0+rx},{y0} Z")

for col, labels, fill, tcol in (("au1", E_AU1_LABELS, "#F7B400", "#3A3020"),
                                ("i", E_I_LABELS, "#7B2D8F", "#F2E4F6"),
                                ("au3", E_AU3_LABELS, "#FAF500", "#3A3A10")):
    x0, x1 = COL_X[col]
    for lv, lab in zip(LEVELS[col], labels):
        y0, y1 = lv - HALF[col], lv + HALF[col]
        shapes.append(dict(type="path", xref="x5", yref="y6", path=rrect(x0 + 0.35, x1 + 0.35, y0 - 0.8, y1 - 0.8),
                           fillcolor="rgba(0,0,0,0.16)", line=dict(width=0), layer="above"))
        shapes.append(dict(type="path", xref="x5", yref="y6", path=rrect(x0, x1, y0, y1),
                           fillcolor=fill, line=dict(width=0), layer="above"))
        ann.append(dict(x=(x0 + x1) / 2, y=lv, xref="x5", yref="y6", showarrow=False, text=lab,
                        font=dict(family=FONT, size=18, color=tcol)))
ann.append(dict(x=23.05, y=66.7, xref="x5", yref="y6", showarrow=False, text="CBM",
                font=dict(family=FONT, size=18, color="#15152A", weight="bold")))
ann.append(dict(x=53.7, y=42.1, xref="x5", yref="y6", showarrow=False, text="VBM",
                font=dict(family=FONT, size=18, color="#15152A", weight="bold")))
for xi, lab in zip((9.5, 38.5, 67.9), E_ION_LABELS):
    ann.append(dict(x=xi, y=5.1, xref="x5", yref="y6", showarrow=False, text=lab, font=title_font(18)))

for lab, xx, yy in (("(a)", 28, 35), ("(b)", 451, 29), ("(c)", 842, 27), ("(d)", 60, 467), ("(e)", 514, 489)):
    ann.append(dict(x=px(xx), y=py(yy), xref="paper", yref="paper", showarrow=False, text=lab,
                    font=title_font(25)))

# ====================== AXES ======================
base = dict(showgrid=False, zeroline=False, showline=True, linecolor="black", linewidth=2.5,
            ticks="outside", tickcolor="black", ticklen=5, tickwidth=2, tickfont=TICKFONT,
            automargin=False)
def minor(d):
    return dict(dtick=d, ticks="outside", ticklen=3, tickwidth=1.5, tickcolor="black")

fig.update_layout(
    width=W, height=H, margin=dict(l=0, r=0, t=0, b=0, autoexpand=False),
    paper_bgcolor="white", plot_bgcolor="white", showlegend=False,
    font=dict(family=FONT, color="black"),
    xaxis=dict(base, domain=[px(107), px(408)], range=[0, 3.01], anchor="y", mirror=True, ticks="",
               tickvals=A_KTICK_POS, ticktext=A_KTICK_TEXT, tickfont=dict(TICKFONT, size=18)),
    yaxis=dict(base, domain=[py(386), py(18)], range=[-3, 4], anchor="x", mirror=True, dtick=1,
               minor=minor(0.5),
               title=dict(text="Energy (E-E<sub>F</sub>) (eV)", font=title_font(16), standoff=6)),
    xaxis2=dict(base, domain=[px(524), px(805)], range=B_XR, anchor="y2", ticks="",
                tickvals=[0.07, 1.0, 1.88], ticktext=B_KTICK_TEXT, tickfont=dict(TICKFONT, size=18)),
    yaxis2=dict(base, domain=B_DLO, range=B_LO, anchor="x2", mirror=True,
                tickvals=[-0.10, -0.05, 0.0], tickformat=".2f", minor=minor(0.025)),
    yaxis3=dict(base, domain=B_DHI, range=B_HI, anchor="x2", mirror=True,
                tickvals=[0.70, 0.75, 0.80], tickformat=".2f", minor=minor(0.025)),
    xaxis3=dict(base, domain=[px(892), 1.0], range=[-0.95, 66.9], anchor="y4", mirror=True,
                tickvals=[0, 20, 40, 60], minor=minor(10),
                title=dict(text="states/eV/atom", font=title_font(20), standoff=8)),
    yaxis4=dict(base, domain=[py(370), py(20)], range=[-3, 4], anchor="x3", dtick=1, minor=minor(0.5),
                title=dict(text="E-E<sub>VBM</sub> (eV)", font=title_font(16), standoff=6)),
    xaxis4=dict(base, domain=[px(167), px(455)], range=[-1, 4], anchor="y5", mirror=True, dtick=1,
                minor=minor(0.5),
                title=dict(text="Energy (E-E<sub>F</sub>)", font=title_font(17), standoff=14)),
    yaxis5=dict(base, domain=[py(806), py(452)], range=[0, 1.0], anchor="x4", mirror=True, dtick=0.2,
                tickformat=".1f", minor=minor(0.1),
                title=dict(text="Density of states (states/eV)", font=title_font(17), standoff=8)),
    xaxis5=dict(domain=[px(470), 1.0], range=[0, 100], visible=False, anchor="y6", fixedrange=True,
                automargin=False),
    yaxis6=dict(domain=[0, py(430)], range=[0, 100], visible=False, anchor="x5", fixedrange=True,
                automargin=False),
    shapes=shapes, annotations=ann,
)

fig.write_html("out.html")
